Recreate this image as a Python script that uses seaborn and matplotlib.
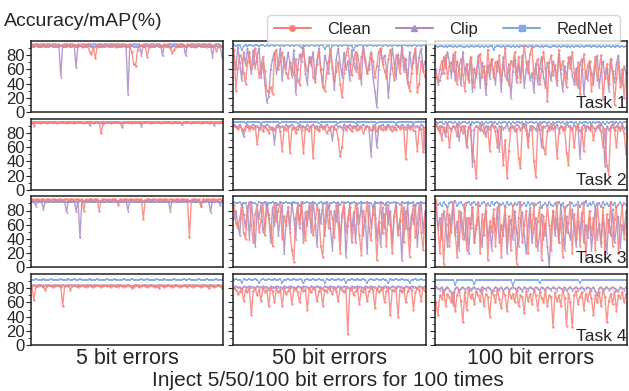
import numpy as np
import pandas as pd
import matplotlib
matplotlib.use("Agg")
import matplotlib.pyplot as plt
from matplotlib.lines import Line2D
import seaborn as sns

# ---------------- data ----------------
series_names = ["Clean", "Clip", "RedNet"]
column_labels = ["5 bit errors", "50 bit errors", "100 bit errors"]
task_labels = ["Task 1", "Task 2", "Task 3", "Task 4"]
y_ticks = [0, 20, 40, 60, 80]

# Task 1
t1_5_clean = [94,93,95,94,94,93,95,94,93,94, 95,94,93,94,95,94,93,94,95,94,
              93,94,95,94,93,94,92,93,94,95, 85,82,90,76,92,94,93,95,94,93,
              94,95,94,93,92,94,95,94,93,94, 95,93,85,67,65,88,93,94,95,93,
              78,92,94,93,95,94,93,92,94,95, 93,94,90,83,88,92,94,93,95,94,
              93,94,95,93,94,92,93,94,95,94, 93,92,94,95,93,94,86,92,94,93]
t1_5_clip = [96,95,96,96,95,96,96,95,96,96, 95,96,96,95,96,50,95,96,96,95,
             96,96,95,63,96,95,96,96,95,96, 96,95,96,96,95,96,96,95,96,96,
             95,96,96,95,96,96,95,96,96,95, 25,96,95,96,96,95,96,80,95,96,
             96,95,96,96,95,96,96,95,80,96, 95,96,96,95,96,96,95,96,96,95,
             80,96,95,96,96,95,96,96,95,96, 96,95,96,96,78,95,96,96,95,77]
t1_5_red = [92,92,93,92,92,92,93,92,92,92, 93,92,92,92,92,93,92,92,92,93,
            92,92,93,92,92,93,92,92,92,92, 93,92,92,92,93,92,92,92,92,93,
            92,92,92,93,92,92,92,92,93,92, 92,92,93,92,92,92,92,93,92,92,
            93,92,92,92,92,93,92,92,92,93, 92,92,92,92,93,92,92,92,92,93,
            92,92,93,92,92,92,92,93,92,92, 92,93,92,92,92,92,93,92,92,92]

t1_50_clean = [88,30,62,80,75,55,40,70,85,60, 68,90,72,50,65,78,58,30,28,35,
               26,82,88,60,72,84,66,55,48,70, 62,52,75,45,38,80,88,66,58,70,
               78,50,42,68,85,60,35,30,55,72, 88,64,45,58,70,40,21,55,80,90,
               68,52,74,85,62,48,78,88,70,55, 60,82,72,50,65,85,90,68,58,48,
               74,88,62,45,80,70,55,88,76,60, 42,30,55,78,90,28,40,72,58,50]
t1_50_clip = [80,60,92,70,45,85,66,90,72,55, 88,62,78,90,50,70,40,14,22,60,
              75,85,55,68,90,45,78,62,84,70, 50,88,26,60,82,72,92,55,40,78,
              66,85,48,72,90,60,38,80,70,55, 88,62,32,75,90,68,50,84,60,72,
              45,88,70,58,82,65,40,92,75,55, 68,85,50,30,7,60,88,72,80,62,
              21,55,90,70,48,82,66,92,58,75, 40,85,62,70,88,55,78,90,60,72]
t1_50_red = [94,93,94,94,88,93,94,93,94,94, 93,94,94,93,94,94,93,94,93,94,
             94,93,94,94,93,94,93,94,94,93, 94,93,94,94,93,90,94,93,94,93,
             94,94,93,94,93,94,94,89,93,94, 87,93,94,94,93,94,93,94,94,93,
             94,93,88,94,93,94,94,93,94,93, 94,94,93,94,93,94,94,93,94,94,
             93,94,93,94,94,93,94,93,94,94, 93,94,93,94,94,93,94,93,94,94]

t1_100_clean = [50,45,60,72,55,80,48,65,70,58, 85,40,62,75,52,30,68,45,78,60,
                35,55,72,82,50,65,40,88,60,75, 48,70,58,80,45,62,90,55,38,72,
                65,85,50,78,42,60,95,70,55,82, 92,48,68,75,40,58,85,62,15,70,
                80,52,66,45,88,60,72,50,35,78, 62,85,55,40,70,25,60,82,48,65,
                72,30,55,78,45,62,80,18,50,68, 40,75,58,10,48,70,35,60,20,55]
t1_100_clip = [60,40,45,55,78,62,85,70,50,82, 45,72,60,38,85,55,68,42,75,30,
               62,50,80,35,70,58,25,66,48,75, 55,40,72,62,30,78,52,45,68,20,
               58,75,42,65,50,80,35,60,72,45, 55,28,68,40,62,78,50,35,70,58,
               45,72,60,38,82,55,30,65,48,70, 78,52,40,62,35,68,75,25,58,45,
               70,55,40,65,80,35,58,72,48,62, 30,75,55,42,68,80,50,38,65,55]
t1_100_red = [93,92,93,93,92,93,92,93,93,92, 93,92,93,93,92,92,93,92,93,93,
              92,93,93,92,93,92,93,92,93,93, 88,92,93,93,92,93,92,93,93,92,
              93,92,93,92,93,93,92,93,92,93, 93,92,93,93,92,93,92,93,93,92,
              92,93,93,92,93,92,93,93,92,93, 92,93,92,93,93,92,93,92,93,93,
              93,92,93,93,92,93,92,93,92,93, 93,92,93,92,93,93,92,93,92,93]

# Task 2
t2_5_clean = [95,90,95,95,94,95,95,95,94,95, 95,95,95,94,95,95,95,95,94,95,
              95,95,94,95,95,95,95,94,95,95, 95,95,94,95,95,95,80,93,95,95,
              95,94,95,95,95,95,94,88,95,95, 95,95,94,95,95,95,95,94,95,95,
              95,95,94,95,95,95,95,94,95,95, 95,95,95,94,95,95,95,95,94,95,
              95,95,95,94,95,95,95,95,94,95, 95,95,94,95,95,95,95,94,95,95]
t2_5_clip = [95,96,95,95,96,95,95,95,96,95, 95,95,96,95,95,95,96,95,95,95,
             96,95,95,95,96,95,95,95,95,96, 91,95,95,96,95,95,95,96,95,95,
             95,96,95,95,95,96,95,95,95,95, 96,95,95,95,96,95,95,90,95,96,
             95,95,96,95,95,95,96,95,95,95, 95,96,95,95,95,96,95,95,92,95,
             96,95,95,95,96,95,95,95,95,96, 95,95,95,96,95,91,95,95,96,95]
t2_5_red = [94,94,95,94,94,94,95,94,94,94, 95,94,94,94,94,95,94,94,94,95,
            94,94,95,94,94,95,94,94,94,94, 95,94,94,94,95,94,94,94,94,95,
            94,94,94,95,94,94,94,94,95,94, 94,94,95,94,94,94,94,95,94,94,
            95,94,94,94,94,95,94,94,94,95, 94,94,94,94,95,94,94,94,94,95,
            94,94,95,94,94,94,94,95,94,94, 94,95,94,94,94,94,95,94,94,94]

t2_50_clean = [90,88,85,90,86,82,88,90,84,88, 86,90,65,85,88,82,90,86,80,88,
               85,84,88,90,82,55,88,84,90,52, 86,88,80,85,90,84,52,88,86,82,
               90,45,88,85,82,90,86,88,80,84, 88,90,86,85,72,47,60,88,84,90,
               86,82,88,90,84,86,88,80,85,90, 88,84,86,88,82,90,86,84,88,85,
               90,86,82,88,84,90,86,88,85,43, 88,86,90,84,82,55,88,86,53,88]
t2_50_clip = [92,90,88,92,86,75,90,92,88,90, 92,88,90,86,92,90,88,92,90,86,
              88,65,90,92,88,90,86,92,88,90, 92,88,86,90,92,88,90,86,92,88,
              90,92,88,90,86,92,88,90,92,88, 86,70,90,92,88,90,86,92,90,88,
              92,88,90,86,92,88,90,92,88,90, 86,48,90,92,60,88,90,92,86,90,
              92,88,90,86,92,90,88,92,90,86, 92,88,90,92,88,90,86,92,90,55]
t2_50_red = [95,96,95,95,96,95,94,95,96,95, 95,96,95,95,94,95,96,95,95,96,
             95,95,96,95,94,95,95,96,95,95, 96,95,95,94,95,96,95,95,96,95,
             95,96,95,95,94,95,96,95,95,96, 95,95,96,95,94,95,95,96,95,95,
             96,95,95,94,95,96,95,95,96,95, 95,96,95,95,94,95,96,95,95,96,
             95,95,96,95,94,95,95,96,95,95, 96,95,95,94,95,96,95,95,96,95]

t2_100_clean = [92,85,90,70,88,82,92,60,85,90, 88,75,92,86,80,90,62,88,84,55,
                40,16,88,92,84,80,90,86,55,92, 88,82,60,90,86,35,70,16,55,88,
                90,82,86,45,30,92,88,84,60,90, 86,40,18,85,92,88,60,50,82,90,
                86,92,88,45,80,90,84,88,52,35, 90,86,60,88,92,82,86,55,90,88,
                84,90,70,86,88,92,82,60,86,35, 20,88,92,84,60,90,86,88,80,50]
t2_100_clip = [92,88,80,90,86,75,92,88,84,90, 86,92,70,88,90,84,60,88,92,34,
               86,90,88,84,92,88,75,90,86,92, 88,90,84,55,90,86,88,92,84,90,
               88,86,92,90,84,88,90,92,70,86, 90,88,84,92,86,60,90,88,92,84,
               90,86,88,92,84,90,88,86,92,90, 88,84,92,86,90,45,88,92,84,90,
               86,92,88,84,90,86,92,88,33,90, 84,88,92,86,90,88,84,92,86,88]
t2_100_red = [95,94,95,95,92,95,94,95,95,94, 95,93,95,94,95,95,94,95,92,95,
              94,95,95,94,95,93,95,94,95,95, 94,95,92,95,94,95,95,94,95,93,
              95,94,95,95,94,95,92,95,94,95, 95,94,95,93,95,94,95,95,94,95,
              92,95,94,95,95,94,95,93,95,94, 95,95,94,95,92,95,94,95,95,94,
              95,93,95,94,95,95,94,95,92,95, 94,95,95,94,95,93,95,94,95,95]

# Task 3
t3_5_clean = [96,95,96,96,95,96,96,95,96,96, 95,96,96,95,96,96,95,96,96,95,
              96,96,95,96,96,95,96,80,96,95, 96,96,95,96,96,80,95,96,96,95,
              96,95,96,96,95,88,96,95,96,96, 95,96,96,95,96,96,95,96,68,95,
              96,96,95,96,96,95,96,96,95,96, 96,95,96,96,95,96,96,95,96,96,
              95,96,42,95,96,96,95,96,86,96, 95,96,96,95,96,96,95,96,96,95]
t3_5_clip = [94,93,87,94,94,93,82,94,93,94, 94,93,94,94,93,94,94,93,78,94,
             94,93,94,79,94,42,93,94,94,93, 94,94,93,94,94,93,94,94,93,94,
             94,93,94,94,93,94,94,93,94,94, 80,94,93,94,94,93,94,94,93,94,
             94,93,94,94,93,94,94,93,94,94, 93,94,80,94,93,94,94,93,94,94,
             93,94,94,93,94,94,93,94,87,94, 94,93,94,78,94,93,94,94,88,94]
t3_5_red = [92,92,93,92,92,92,93,92,92,92, 93,92,92,92,92,93,92,92,92,93,
            92,92,93,92,92,93,92,92,92,92, 93,92,92,92,93,92,92,92,92,93,
            92,92,92,93,92,92,92,92,93,92, 92,92,93,92,92,92,92,93,92,92,
            93,92,92,92,92,93,92,92,92,93, 92,92,92,92,93,92,92,92,92,93,
            92,92,93,92,92,92,92,93,92,92, 92,93,92,92,92,92,93,92,92,92]

t3_50_clean = [88,62,55,70,85,48,40,80,92,60, 35,75,88,50,65,90,45,82,70,55,
               30,88,65,80,92,40,72,60,85,50, 25,8,70,88,55,92,62,38,80,70,
               90,45,60,85,75,30,15,65,90,55, 80,70,42,88,62,20,75,92,50,68,
               85,35,60,90,72,45,18,80,65,92, 55,38,85,70,10,62,90,48,75,30,
               88,60,20,72,85,45,65,92,35,80, 55,15,70,88,42,62,90,50,25,75]
t3_50_clip = [70,80,60,45,90,75,55,85,40,92, 65,30,80,70,88,50,62,92,75,35,
              85,60,90,45,72,88,20,65,80,55, 92,70,40,85,62,90,35,78,60,88,
              50,92,70,30,82,62,90,45,75,88, 55,25,80,65,92,40,72,85,15,60,
              90,50,78,35,85,62,92,45,70,20, 88,58,75,92,40,65,30,85,55,90,
              62,80,35,72,92,48,68,10,85,55, 90,40,75,62,88,30,70,92,50,80]
t3_50_red = [92,91,90,92,88,91,90,84,90,92, 91,90,88,92,91,90,92,85,90,91,
             92,90,91,88,92,90,91,92,90,91, 88,92,90,91,86,92,90,91,92,90,
             91,92,90,88,91,92,90,91,92,84, 90,91,92,90,91,88,92,90,91,92,
             90,91,92,90,88,91,92,90,91,92, 90,91,85,92,90,91,92,90,88,91,
             92,90,91,92,90,91,88,92,90,91, 92,90,91,92,86,90,91,92,90,91]

t3_100_clean = [95,60,20,75,5,60,85,30,70,92, 50,15,80,65,40,90,25,70,55,85,
                35,60,92,20,75,45,88,10,65,50, 82,30,70,90,15,60,85,40,72,25,
                88,55,5,70,92,35,60,80,20,75, 50,90,30,65,85,10,72,45,88,60,
                25,80,55,92,35,70,15,85,50,62, 90,20,75,40,88,30,65,92,10,55,
                80,45,70,25,90,60,35,85,15,75, 50,92,30,68,85,20,60,88,40,70]
t3_100_clip = [85,55,70,40,80,62,30,75,50,88, 45,65,25,78,55,40,70,20,62,85,
               35,55,72,48,30,65,80,40,58,25, 70,52,85,35,60,45,75,20,55,68,
               40,80,50,30,65,78,45,20,60,85, 35,55,70,25,48,75,40,62,30,0,
               55,80,45,70,35,88,60,25,72,50, 40,82,58,30,65,48,78,35,60,42,
               70,25,55,85,40,62,30,75,50,20, 68,45,82,35,58,72,28,60,48,80]
t3_100_red = [92,88,90,86,92,88,85,90,92,88, 94,86,90,92,88,80,90,92,88,90,
              92,88,90,86,90,92,88,90,86,92, 88,90,92,86,88,90,85,92,88,90,
              86,90,88,92,85,88,90,86,92,88, 90,86,88,90,92,84,88,90,86,92,
              88,86,90,85,92,88,90,80,86,88, 92,90,86,88,92,85,90,88,94,86,
              90,88,92,86,88,90,85,92,88,90, 86,92,88,90,85,88,92,86,90,88]

# Task 4
t4_5_clean = [83,63,82,83,84,83,82,78,83,84, 83,82,83,84,83,82,55,83,84,83,
              78,83,84,83,82,83,84,83,82,83, 84,83,82,83,84,83,82,83,84,83,
              83,82,84,83,83,82,84,83,82,83, 84,83,83,82,84,83,82,83,84,83,
              82,83,84,83,82,83,80,84,83,82, 83,84,83,82,83,84,83,82,83,84,
              83,82,84,83,82,83,84,83,82,83, 84,83,80,84,83,82,83,84,83,80]
t4_5_clip = [84,85,84,84,85,84,84,84,85,84, 84,84,85,84,84,84,85,84,84,84,
             85,84,84,84,85,84,84,84,84,85, 84,84,84,85,84,84,84,85,84,84,
             84,85,84,84,84,85,84,84,84,84, 85,84,80,84,85,84,84,84,84,85,
             84,84,85,84,84,84,85,84,84,84, 84,85,84,84,84,85,84,84,84,84,
             85,84,84,84,85,84,84,84,84,85, 84,84,84,85,84,84,84,85,84,84]
t4_5_red = [92,92,93,92,92,92,93,92,92,92, 93,92,92,92,92,93,92,92,92,93,
            92,92,93,92,92,93,92,92,92,92, 93,92,92,92,93,92,92,92,92,93,
            92,92,92,93,92,92,92,92,93,92, 92,92,93,92,92,92,92,93,92,92,
            93,92,92,92,92,93,92,92,92,93, 92,92,92,92,93,92,92,92,92,93,
            92,92,93,92,92,92,92,93,92,92, 92,93,92,92,92,92,93,92,92,92]

t4_50_clean = [80,78,72,75,80,62,78,74,80,42, 76,80,70,78,62,80,75,78,55,80,
               76,60,80,74,78,55,80,72,76,80, 58,78,80,74,60,80,76,78,50,80,
               74,80,78,62,76,80,55,78,74,80, 78,72,80,76,62,80,78,74,80,15,
               78,80,70,76,80,58,78,74,80,62, 76,80,78,52,80,74,78,80,60,76,
               80,42,78,76,80,40,78,74,80,60, 76,80,78,50,74,80,78,62,80,76]
t4_50_clip = [82,83,81,82,78,83,82,81,83,82, 82,80,83,82,81,83,82,82,79,83,
              82,81,83,82,82,80,83,82,81,83, 82,82,79,83,82,81,83,82,82,80,
              83,82,81,83,82,82,79,83,82,81, 83,82,82,80,83,82,81,83,82,82,
              79,83,82,81,83,82,82,80,83,82, 81,83,82,82,79,83,82,81,83,82,
              82,80,83,82,81,83,82,82,79,83, 82,81,83,82,82,80,83,82,81,83]
t4_50_red = [92,93,92,92,88,93,92,92,93,92, 92,93,92,87,92,93,92,92,93,92,
             92,93,92,92,93,88,92,92,93,92, 92,93,92,92,93,92,87,92,93,92,
             92,93,92,92,93,92,92,88,93,92, 92,93,92,92,93,92,92,93,87,92,
             92,93,92,92,93,92,92,93,92,88, 92,93,92,92,93,92,92,93,92,92,
             87,93,92,92,93,92,92,93,92,92, 92,88,92,92,93,92,92,93,92,92]

t4_100_clean = [60,42,70,65,78,55,72,68,60,75, 48,70,78,62,32,74,50,78,66,72,
                58,75,70,62,78,55,72,68,40,76, 70,60,78,65,52,74,70,48,76,66,
                72,60,78,55,70,68,45,76,62,72, 58,78,70,50,74,66,60,78,55,70,
                68,25,74,62,70,55,78,66,27,72, 60,25,70,76,58,68,74,50,72,62,
                76,66,42,70,60,74,55,78,68,32, 62,72,58,76,48,70,66,74,60,72]
t4_100_clip = [82,80,78,82,72,80,82,78,74,57, 80,82,76,80,82,78,80,82,78,80,
               82,78,80,76,82,80,78,82,80,75, 78,82,80,78,82,76,80,82,78,80,
               82,80,78,82,80,76,82,80,78,82, 80,78,82,80,76,82,80,78,82,80,
               78,82,80,78,82,80,78,82,76,80, 82,78,80,82,78,80,82,78,80,82,
               80,78,82,76,70,80,82,78,80,82, 78,80,82,80,78,76,82,80,78,82]
t4_100_red = [91,92,91,91,92,91,92,91,91,92, 85,91,92,91,91,92,91,92,91,91,
              86,92,91,91,92,91,92,91,91,92, 91,92,91,91,92,91,92,91,91,92,
              84,91,92,91,91,92,91,92,91,91, 92,91,92,91,88,92,91,92,91,91,
              92,91,91,92,91,92,91,91,92,91, 92,91,91,92,91,88,91,92,91,91,
              92,91,92,91,91,92,91,92,91,91, 92,91,91,92,91,92,91,91,92,91]

# ---------------- assemble ----------------
grid = [
    [(t1_5_clean, t1_5_clip, t1_5_red), (t1_50_clean, t1_50_clip, t1_50_red), (t1_100_clean, t1_100_clip, t1_100_red)],
    [(t2_5_clean, t2_5_clip, t2_5_red), (t2_50_clean, t2_50_clip, t2_50_red), (t2_100_clean, t2_100_clip, t2_100_red)],
    [(t3_5_clean, t3_5_clip, t3_5_red), (t3_50_clean, t3_50_clip, t3_50_red), (t3_100_clean, t3_100_clip, t3_100_red)],
    [(t4_5_clean, t4_5_clip, t4_5_red), (t4_50_clean, t4_50_clip, t4_50_red), (t4_100_clean, t4_100_clip, t4_100_red)],
]

colors = {"Clean": "#f7837a", "Clip": "#a98bc6", "RedNet": "#7fa8e6"}
markers = {"Clean": "o", "Clip": "^", "RedNet": "s"}

sns.set_style("ticks")
plt.rcParams["font.family"] = ["Liberation Sans", "DejaVu Sans"]

W, H = 629, 391
fig = plt.figure(figsize=(W / 100, H / 100), dpi=100)


def rect(x0, y0, x1, y1):
    return [x0 / W, 1 - y1 / H, (x1 - x0) / W, (y1 - y0) / H]


cols = [(31, 223), (233, 426), (435, 627)]
rows = [(41, 112), (118.7, 189.7), (196.3, 267.3), (274, 345)]

for r, (y0, y1) in enumerate(rows):
    for c, (x0, x1) in enumerate(cols):
        ax = fig.add_axes(rect(x0, y0, x1, y1))
        clean, clip, red = grid[r][c]
        n = len(clean)
        df = pd.DataFrame({
            "run": list(range(n)) * 3,
            "value": list(clean) + list(clip) + list(red),
            "method": ["Clean"] * n + ["Clip"] * n + ["RedNet"] * n,
        })
        for name in ["RedNet", "Clip", "Clean"]:
            sub = df[df["method"] == name]
            sns.lineplot(data=sub, x="run", y="value", ax=ax, color=colors[name],
                         linewidth=1.0, marker=markers[name], markersize=1.8,
                         markeredgewidth=0, alpha=0.85, legend=False)
        ax.set_xlim(-0.5, n - 0.5)
        ax.set_ylim(0, 100)
        ax.set_yticks(y_ticks)
        ax.set_yticks(range(10, 100, 20), minor=True)
        ax.set_xticks([])
        ax.set_xlabel("")
        ax.set_ylabel("")
        ax.tick_params(axis="y", which="major", length=3.5, width=0.8, labelsize=12, pad=1)
        ax.tick_params(axis="y", which="minor", length=2, width=0.6)
        if c != 0:
            ax.set_yticklabels([])
        for s in ax.spines.values():
            s.set_linewidth(1.1)
            s.set_color("#222222")
        if c == 2:
            ax.text(1.0, 0.02, task_labels[r], transform=ax.transAxes, ha="right",
                    va="bottom", fontsize=12.5)

for c, (x0, x1) in enumerate(cols):
    fig.text((x0 + x1) / 2 / W, 1 - 358 / H, column_labels[c], ha="center", va="center", fontsize=15.5)
fig.text(328 / W, 1 - 381 / H, "Inject 5/50/100 bit errors for 100 times", ha="center", va="center", fontsize=15)
fig.text(4 / W, 1 - 22 / H, "Accuracy/mAP(%)", ha="left", va="center", fontsize=14)

handles = [Line2D([0], [0], color=colors[nm], marker=markers[nm], markersize=4, linewidth=1.5)
           for nm in series_names]
fig.legend(handles, series_names, loc="upper right", bbox_to_anchor=(628 / W, 1 - 7 / H),
           ncol=3, fontsize=12, handlelength=2.2, handletextpad=1.0, columnspacing=1.5,
           frameon=True, fancybox=True, edgecolor="#cccccc", borderpad=0.4)

fig.savefig("out.png", dpi=100)
